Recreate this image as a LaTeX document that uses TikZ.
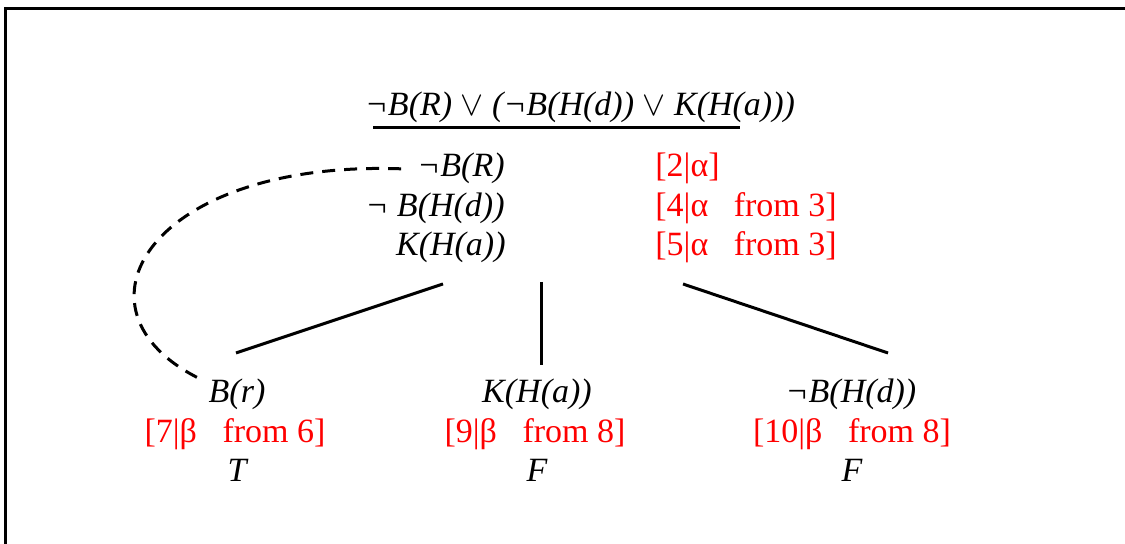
\documentclass[tikz,border=0pt]{standalone}
\usepackage{fontspec}
\setmainfont{Liberation Serif}
\begin{document}
\begin{tikzpicture}[x=0.5pt,y=-0.5pt,
				every node/.style={inner sep=0pt,font=\fontsize{17}{20}\selectfont},
				formula/.style={font=\fontsize{17}{20}\selectfont\itshape},
				tag/.style={text=red},
				branch/.style={line width=1.5pt},
				link/.style={line width=1.5pt,dash pattern=on 6.5pt off 4.5pt}]
\useasboundingbox (0,0) rectangle (1125,544);
\draw[branch] (5,544) |- (1125,9);
% root formula and its expansion
\node[formula,anchor=base] (top) at (580,116) {¬B(R) $\vee$ (¬B(H(d)) $\vee$ K(H(a)))};
\draw[branch] (373,128) -- (740,128);
\node[formula,anchor=base east] (r1) at (505,177) {¬B(R)};
\node[formula,anchor=base east] (r2) at (505,217) {¬ B(H(d))};
\node[formula,anchor=base east] (r3) at (506,256) {K(H(a))};
\node[tag,anchor=base west] (t1) at (655,177) {[2|α]};
\node[tag,anchor=base west] (t2) at (655,217) {[4|α\ \ \ from 3]};
\node[tag,anchor=base west] (t3) at (655,256) {[5|α\ \ \ from 3]};
% branches
\node[formula,anchor=base] (c1) at (237,403) {B(r)};
\node[tag,anchor=base] (c1tag) at (235,443) {[7|β\ \ \ from 6]};
\node[formula,anchor=base] (c1val) at (237,482) {T};
\node[formula,anchor=base] (c2) at (537,403) {K(H(a))};
\node[tag,anchor=base] (c2tag) at (535,443) {[9|β\ \ \ from 8]};
\node[formula,anchor=base] (c2val) at (537,482) {F};
\node[formula,anchor=base] (c3) at (851,403) {¬B(H(d))};
\node[tag,anchor=base] (c3tag) at (852,443) {[10|β\ \ \ from 8]};
\node[formula,anchor=base] (c3val) at (852,482) {F};
\coordinate (split1) at (443,284);
\coordinate (split2) at (541,282);
\coordinate (split3) at (683,284);
\coordinate (leaf1) at (236,353);
\coordinate (leaf2) at (541,365);
\coordinate (leaf3) at (888,353);
\draw[branch] (split1) -- (leaf1);
\draw[branch] (split2) -- (leaf2);
\draw[branch] (split3) -- (leaf3);
\draw[link] ([xshift=-8pt]r1.west) .. controls (150,160) and (60,310) .. ([xshift=-4pt]c1.north west);
\end{tikzpicture}
\end{document}
